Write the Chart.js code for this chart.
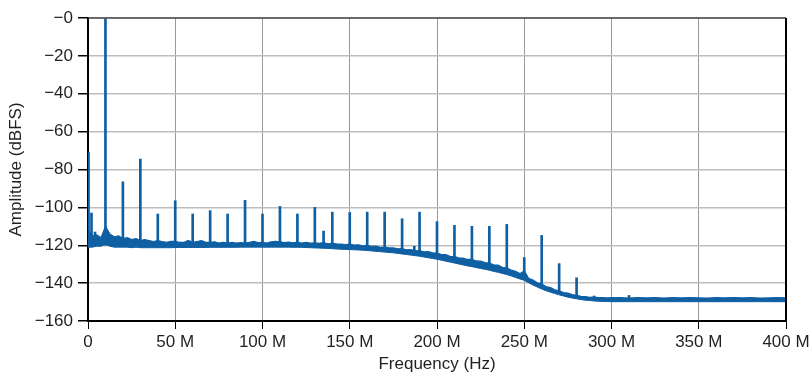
<!DOCTYPE html>
<html>
<head>
<meta charset="utf-8">
<script src="https://cdn.jsdelivr.net/npm/chart.js@4.4.1/dist/chart.umd.min.js"></script>
<style>
  html, body { margin: 0; padding: 0; background: #fff; }
  #wrap { width: 809px; height: 375px; }
</style>
</head>
<body>
<div id="wrap"><canvas id="fft"></canvas></div>
<script>
// noise floor, sampled in MHz (2.5 MHz up to 300, then 5 MHz)
const noiseFreq = [
  0, 2.5, 5, 7.5, 10, 12.5, 15, 17.5, 20, 22.5,
  25, 27.5, 30, 32.5, 35, 37.5, 40, 42.5, 45, 47.5,
  50, 52.5, 55, 57.5, 60, 62.5, 65, 67.5, 70, 72.5,
  75, 77.5, 80, 82.5, 85, 87.5, 90, 92.5, 95, 97.5,
  100, 102.5, 105, 107.5, 110, 112.5, 115, 117.5, 120, 122.5,
  125, 127.5, 130, 132.5, 135, 137.5, 140, 142.5, 145, 147.5,
  150, 152.5, 155, 157.5, 160, 162.5, 165, 167.5, 170, 172.5,
  175, 177.5, 180, 182.5, 185, 187.5, 190, 192.5, 195, 197.5,
  200, 202.5, 205, 207.5, 210, 212.5, 215, 217.5, 220, 222.5,
  225, 227.5, 230, 232.5, 235, 237.5, 240, 242.5, 245, 247.5,
  250, 252.5, 255, 257.5, 260, 262.5, 265, 267.5, 270, 272.5,
  275, 277.5, 280, 282.5, 285, 287.5, 290, 292.5, 295, 297.5,
  300, 305, 310, 315, 320, 325, 330, 335, 340, 345,
  350, 355, 360, 365, 370, 375, 380, 385, 390, 395, 400
];
const noiseTop = [
  -112, -115, -114.5, -116, -110, -114, -115.5, -115, -116.5, -116,
  -117, -116.5, -117.5, -117, -117.5, -118, -117.5, -118, -118.5, -118,
  -118, -118.5, -118.5, -117.5, -118.5, -118, -117.5, -118.5, -118.5, -118.2,
  -118.8, -118.5, -118.8, -118.5, -118.8, -118.6, -118.8, -118.5, -118, -118.6,
  -118.5, -118.8, -118.2, -118, -118.2, -118.6, -118.4, -118.7, -118.4, -118.8,
  -118.5, -118.9, -118.7, -119, -118.6, -119.2, -119, -119.3, -119.4, -119.6,
  -119.4, -119.9, -119.8, -120.3, -120.1, -120.6, -120.5, -121.1, -121, -121.4,
  -121.4, -121.9, -121.8, -122.4, -122.3, -122.9, -122.8, -123.5, -123.4, -124,
  -124.1, -124.9, -125, -125.9, -126, -126.7, -126.8, -127.5, -127.5, -128.3,
  -128.4, -129.2, -129.4, -130.3, -130.5, -131.6, -132, -133.1, -133.8, -135,
  -133.5, -137.5, -138.4, -139.8, -140.5, -141.8, -142.4, -143.5, -144, -145,
  -145.3, -146.1, -146.4, -147, -147.1, -147.5, -147.4, -147.7, -147.6, -147.8,
  -147.7, -147.7, -147.9, -147.6, -147.8, -147.7, -147.9, -147.7, -147.8, -147.6,
  -147.8, -147.9, -147.7, -147.8, -147.6, -147.8, -147.7, -147.9, -147.8, -147.7, -147.8
];
const noiseBottom = [
  -121, -121, -120.5, -120.5, -119.5, -120.5, -121, -121, -121, -121,
  -121.3, -121, -121.3, -121.3, -121.3, -121.3, -121.3, -121.3, -121.3, -121.3,
  -121.2, -121.2, -121.2, -121.2, -121.2, -121.2, -121.2, -121.2, -121.1, -121.1,
  -121.1, -121.1, -121.1, -121.1, -121.1, -121, -121, -121, -121, -121,
  -121, -121, -121, -121, -121, -121, -121, -121.1, -121.1, -121.1,
  -121.2, -121.3, -121.4, -121.5, -121.6, -121.7, -121.8, -122, -122.1, -122.2,
  -122.3, -122.4, -122.5, -122.6, -122.8, -123, -123.2, -123.4, -123.6, -123.8,
  -124, -124.3, -124.6, -124.9, -125.2, -125.5, -125.8, -126.2, -126.6, -127,
  -127.4, -127.9, -128.4, -128.9, -129.4, -129.9, -130.4, -130.9, -131.3, -131.8,
  -132.3, -132.7, -133.2, -133.8, -134.3, -134.9, -135.5, -136.2, -137, -137.8,
  -138.5, -139.8, -141, -142.1, -143.1, -144, -144.8, -145.5, -146.2, -146.8,
  -147.4, -147.9, -148.3, -148.7, -149, -149.2, -149.4, -149.6, -149.7, -149.7,
  -149.8, -149.8, -149.8, -149.8, -149.8, -149.8, -149.8, -149.8, -149.8, -149.8,
  -149.8, -149.8, -149.8, -149.8, -149.8, -149.8, -149.8, -149.8, -149.8, -149.8, -149.8
];

// spurs (MHz, peak dBFS, floor level under the spur)
const spurFreq = [0.3, 2, 4, 10, 20, 30, 40, 50, 60, 70, 80, 90, 100, 110, 120, 130, 135, 140,
  150, 160, 170, 180, 187, 190, 200, 210, 220, 230, 240, 250, 260, 270, 280, 290, 310];
const spurPeak = [-71, -103, -113, 0, -86.5, -74.5, -103.5, -96.5, -103.5, -101.7, -103.5, -96.3,
  -103.5, -99.5, -103.5, -100, -112.5, -102.5, -102.7, -102.5, -102.5, -106, -120.5, -102.5,
  -107.5, -109.5, -110, -110, -109, -126.5, -114.8, -129.7, -137.2, -146.8, -146.5];
const spurBase = [-120, -120, -120, -120, -120, -120, -120, -120, -120, -120, -120, -120,
  -120, -120, -120, -120, -120, -120.5, -121, -121.5, -122.5, -123.5, -124, -124.5,
  -126, -128, -130, -132, -134.5, -137, -142, -145.5, -147.5, -148.5, -148.5];

const xTicks = [0, 50, 100, 150, 200, 250, 300, 350, 400];
const yTicks = [0, -20, -40, -60, -80, -100, -120, -140, -160];

const blue = '#0f5fa3';
const font = "'Liberation Sans', Arial, sans-serif";
const ink = '#231f20';

const topLine = noiseFreq.map((f, i) => ({ x: f, y: noiseTop[i] }));
const bottomLine = noiseFreq.map((f, i) => ({ x: f, y: noiseBottom[i] }));
const spurs = spurFreq.map((f, i) => ({ x: f, y: [spurBase[i], spurPeak[i]] }));

// top and right frame lines
const frame = {
  id: 'frame',
  afterDatasetsDraw(chart) {
    const a = chart.chartArea, c = chart.ctx;
    c.save();
    c.strokeStyle = '#4a4a4a';
    c.lineWidth = 1.5;
    c.beginPath(); c.moveTo(a.left, a.top); c.lineTo(a.right, a.top); c.stroke();
    c.strokeStyle = '#000';
    c.lineWidth = 2;
    c.beginPath(); c.moveTo(a.right, a.top); c.lineTo(a.right, a.bottom); c.stroke();
    c.restore();
  }
};

new Chart(document.getElementById('fft'), {
  type: 'bar',
  data: {
    datasets: [
      {
        type: 'line',
        data: topLine,
        borderColor: blue,
        backgroundColor: blue,
        borderWidth: 1.2,
        pointRadius: 0,
        tension: 0,
        fill: '+1'
      },
      {
        type: 'line',
        data: bottomLine,
        borderColor: blue,
        borderWidth: 1,
        pointRadius: 0,
        tension: 0,
        fill: false
      },
      {
        type: 'bar',
        data: spurs,
        backgroundColor: blue,
        borderWidth: 0,
        barThickness: 2
      }
    ]
  },
  options: {
    responsive: true,
    maintainAspectRatio: false,
    animation: false,
    layout: { padding: { top: 18, right: 23, left: 0, bottom: 0 } },
    plugins: {
      legend: { display: false },
      tooltip: { enabled: false }
    },
    scales: {
      x: {
        type: 'linear',
        min: 0,
        max: 400,
        offset: false,
        afterFit(s) { s.height = 54; s.paddingLeft = 0; s.paddingRight = 0; },
        afterBuildTicks(s) { s.ticks = xTicks.map(v => ({ value: v })); },
        grid: { offset: false, color: '#9a9a9a', lineWidth: 1, tickLength: 8, tickColor: '#000' },
        border: { color: '#000', width: 2 },
        ticks: {
          color: ink,
          font: { family: font, size: 17 },
          padding: 3,
          maxRotation: 0,
          callback: v => (v === 0 ? '0' : v + ' M')
        },
        title: {
          display: true,
          text: 'Frequency (Hz)',
          color: ink,
          font: { family: font, size: 17 },
          padding: { top: 0, bottom: 0 }
        }
      },
      y: {
        min: -160,
        max: 0,
        afterFit(s) { s.width = 88; s.paddingTop = 0; s.paddingBottom = 0; },
        afterBuildTicks(s) { s.ticks = yTicks.map(v => ({ value: v })); },
        grid: { color: '#bdbdbd', lineWidth: 1.5, tickLength: 10, tickColor: '#000' },
        border: { color: '#000', width: 2 },
        ticks: {
          color: ink,
          font: { family: font, size: 17 },
          padding: 5,
          callback: v => (v === 0 ? '\u22120' : '\u2212' + Math.abs(v))
        },
        title: {
          display: true,
          text: 'Amplitude (dBFS)',
          color: ink,
          font: { family: font, size: 17 },
          padding: { top: 6, bottom: 0 }
        }
      }
    }
  },
  plugins: [frame]
});
</script>
</body>
</html>
